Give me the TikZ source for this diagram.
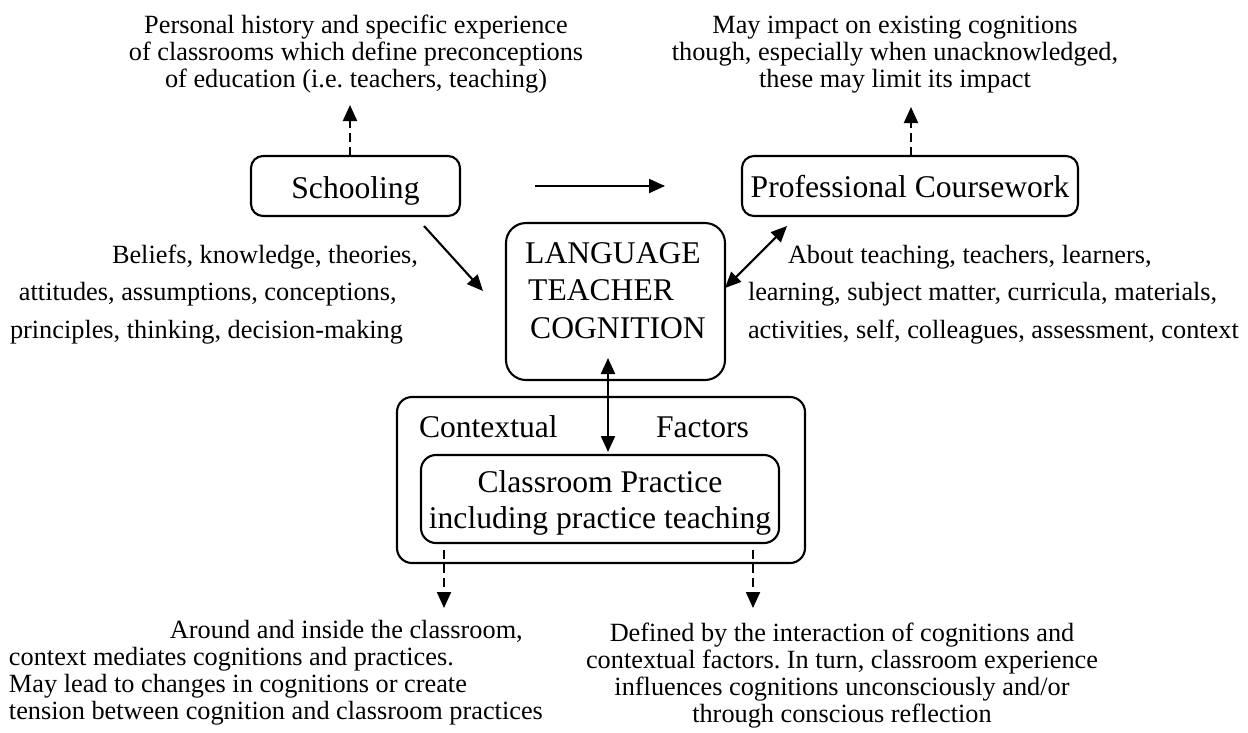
\documentclass[tikz,border=0pt]{standalone}
\usepackage{fontspec}
\setmainfont{Liberation Serif}
\usetikzlibrary{arrows.meta}
\frenchspacing

% type sizes (1pt = 1 unit of the drawing grid)
\newcommand{\txtsmall}{\fontsize{26.3pt}{27.3pt}\selectfont}
\newcommand{\txtside}{\fontsize{26.3pt}{37.5pt}\selectfont}
\newcommand{\txtbox}{\fontsize{31.6pt}{36pt}\selectfont}
\newcommand{\txtboxwide}{\fontsize{31.6pt}{37.5pt}\selectfont}

\begin{document}
\begin{tikzpicture}[x=1pt,y=-1pt,
  box/.style={draw, line width=2.1pt, inner sep=0pt, outer sep=0pt},
  txt/.style={inner sep=0pt, outer sep=0pt},
  link/.style={line width=2.1pt, -{Triangle[length=16pt,width=14pt]}},
  both/.style={line width=2.1pt, {Triangle[length=16pt,width=14pt]}-{Triangle[length=16pt,width=14pt]}},
  hint/.style={link, dash pattern=on 9pt off 5pt},
]
\useasboundingbox (0,0) rectangle (1248,732);

% main boxes
\node[box, rounded corners=12pt, minimum width=209pt, minimum height=60pt,
      text height=42pt, text depth=18pt, font=\txtbox] (school) at (355.5,186) {Schooling};
\node[box, rounded corners=12pt, minimum width=336pt, minimum height=60pt,
      text height=41pt, text depth=19pt, font=\txtbox] (prof) at (910,186) {Professional Coursework};
\node[box, rounded corners=20pt, minimum width=219pt, minimum height=157pt,
      text height=40pt, text depth=117pt, font=\txtboxwide] (lang) at (615.5,301.5)
  {\begin{tabular}[t]{@{}l@{}}LANGUAGE\\\hspace*{3pt}TEACHER\\\hspace*{5pt}COGNITION\end{tabular}};

% context frame with the classroom box inside
\node[box, rounded corners=15pt, minimum width=408pt, minimum height=166pt] (ctx) at (601,480) {};
\node[txt, font=\txtbox, anchor=base west] (ctxl) at (419,437) {Contextual};
\node[txt, font=\txtbox, anchor=base west] (ctxr) at (656,437) {Factors};
\node[box, rounded corners=15pt, minimum width=358pt, minimum height=88pt,
      text height=37pt, text depth=51pt, font=\txtbox] (cls) at (600,499)
  {\begin{tabular}[t]{@{}c@{}}Classroom Practice\\including practice teaching\end{tabular}};

% notes
\node[txt, font=\txtsmall, anchor=base] (histnote) at (356,33)
  {\begin{tabular}[t]{@{}c@{}}Personal history and specific experience\\of classrooms which define preconceptions\\of education (i.e. teachers, teaching)\end{tabular}};
\node[txt, font=\txtsmall, anchor=base] (impnote) at (895,33)
  {\begin{tabular}[t]{@{}c@{}}May impact on existing cognitions\\though, especially when unacknowledged,\\these may limit its impact\end{tabular}};
\node[txt, font=\txtside, anchor=base west] (beliefs) at (10,263)
  {\begin{tabular}[t]{@{}l@{}}\hspace*{102pt}Beliefs, knowledge, theories,\\\hspace*{9pt}attitudes, assumptions, conceptions,\\principles, thinking, decision-making\end{tabular}};
\node[txt, font=\txtside, anchor=base west] (about) at (748,263)
  {\begin{tabular}[t]{@{}l@{}}\hspace*{40pt}About teaching, teachers, learners,\\learning, subject matter, curricula, materials,\\activities, self, colleagues, assessment, context\end{tabular}};
\node[txt, font=\txtsmall, anchor=base west] (around) at (9,638)
  {\begin{tabular}[t]{@{}l@{}}\hspace*{161pt}Around and inside the classroom,\\context mediates cognitions and practices.\\May lead to changes in cognitions or create\\tension between cognition and classroom practices\end{tabular}};
\node[txt, font=\txtsmall, anchor=base] (defined) at (842,641)
  {\begin{tabular}[t]{@{}c@{}}Defined by the interaction of cognitions and\\contextual factors. In turn, classroom experience\\influences cognitions unconsciously and/or\\through conscious reflection\end{tabular}};

% arrow tips of the upward dashed links
\coordinate (histtip) at (350,105);
\coordinate (imptip) at (911,107);

% connectors
\draw[hint] (histtip |- school.north) -- (histtip);
\draw[hint] (imptip |- prof.north) -- (imptip);
\draw[link] ([xshift=75pt]school.east) -- ([xshift=-77pt]prof.west);
\draw[link] ([shift={(-36,10)}]school.south east) -- ([shift={(-23,-10.5)}]lang.west);
\draw[both] ([shift={(0,-13.5)}]lang.east) -- ([shift={(45,10)}]prof.south west);
\draw[both] ([shift={(-7.5,-22)}]lang.south) -- ([shift={(8,-3)}]cls.north);
\draw[hint] ([shift={(23,7)}]cls.south west) -- ++(0,58);
\draw[hint] ([shift={(-26,7)}]cls.south east) -- ++(0,58);
\end{tikzpicture}
\end{document}
